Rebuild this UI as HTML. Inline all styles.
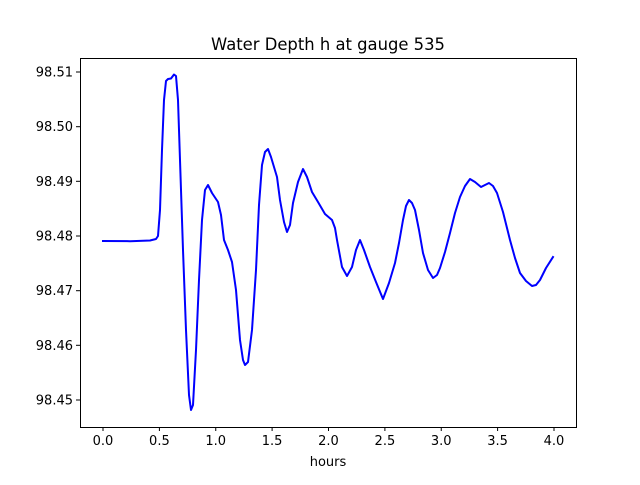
<!DOCTYPE html>
<html><head><meta charset="utf-8"><style>
body{margin:0;background:#fff;}
text{font-family:"DejaVu Sans","Liberation Sans",sans-serif;font-size:13px;fill:#000;}
</style></head><body>
<svg width="640" height="480" xmlns="http://www.w3.org/2000/svg">
<rect width="640" height="480" fill="#fff"/>
<text x="328" y="50" text-anchor="middle" style="font-size:16.4px">Water Depth h at gauge 535</text>
<polyline fill="none" stroke="#0000ff" stroke-width="2" stroke-linejoin="round" stroke-linecap="square" points="
103,241 130,241.2 150,240.5 156,239 158,236 160,210 162,150 164,100 166,81 168,79 171,78.5 174,74.5 176,76 178,100 180,160 183,250 186,330 189,395 191,410 193,405 196,350 199,280 202,220 205,190 208,185 212,193 218,202 221,215 224,240 228,250 232,262 236,290 240,340 243,360 245,365 248,362 252,330 256,270 259,205 262,165 265,152 268,149 271,157 274,167 277,177 280,200 284,222 287,232 290,225 293,203 298,182 303,169 307,177 312,192 318,202 325,214 332,220 335,228 337,240 342,267 347,276 352,267 356,250 360,240 364,250 370,267 376,282 383,299 389,283 395,263 399,243 403,220 406,206 409,200 412,203 415,210 419,230 423,253 428,270 433,278 437,275 440,268 445,252 450,233 455,213 460,197 465,186 470,179 475,182 481,187 485,185 489,183 493,186 497,193 503,212 510,240 515,258 520,273 526,281 532,286 536,285 540,280 546,268 553,257"/>
<rect x="80.5" y="58.5" width="496" height="369" fill="none" stroke="#000" stroke-width="1"/>
<g stroke="#000" stroke-width="1">
<line x1="103" y1="427" x2="103" y2="431"/><line x1="159.4" y1="427" x2="159.4" y2="431"/><line x1="215.75" y1="427" x2="215.75" y2="431"/><line x1="272.1" y1="427" x2="272.1" y2="431"/><line x1="328.5" y1="427" x2="328.5" y2="431"/><line x1="384.9" y1="427" x2="384.9" y2="431"/><line x1="441.25" y1="427" x2="441.25" y2="431"/><line x1="497.6" y1="427" x2="497.6" y2="431"/><line x1="554" y1="427" x2="554" y2="431"/>
<line x1="76" y1="400" x2="80" y2="400"/><line x1="76" y1="345.3" x2="80" y2="345.3"/><line x1="76" y1="290.7" x2="80" y2="290.7"/><line x1="76" y1="236" x2="80" y2="236"/><line x1="76" y1="181.3" x2="80" y2="181.3"/><line x1="76" y1="126.7" x2="80" y2="126.7"/><line x1="76" y1="72" x2="80" y2="72"/>
</g>
<g text-anchor="middle">
<text x="103" y="445">0.0</text><text x="159.4" y="445">0.5</text><text x="215.75" y="445">1.0</text><text x="272.1" y="445">1.5</text><text x="328.5" y="445">2.0</text><text x="384.9" y="445">2.5</text><text x="441.25" y="445">3.0</text><text x="497.6" y="445">3.5</text><text x="554" y="445">4.0</text>
<text x="328" y="466">hours</text>
</g>
<g text-anchor="end">
<text x="73" y="404.5">98.45</text><text x="73" y="349.8">98.46</text><text x="73" y="295.2">98.47</text><text x="73" y="240.5">98.48</text><text x="73" y="185.8">98.49</text><text x="73" y="131.2">98.50</text><text x="73" y="76.5">98.51</text>
</g>
</svg>
</body></html>
